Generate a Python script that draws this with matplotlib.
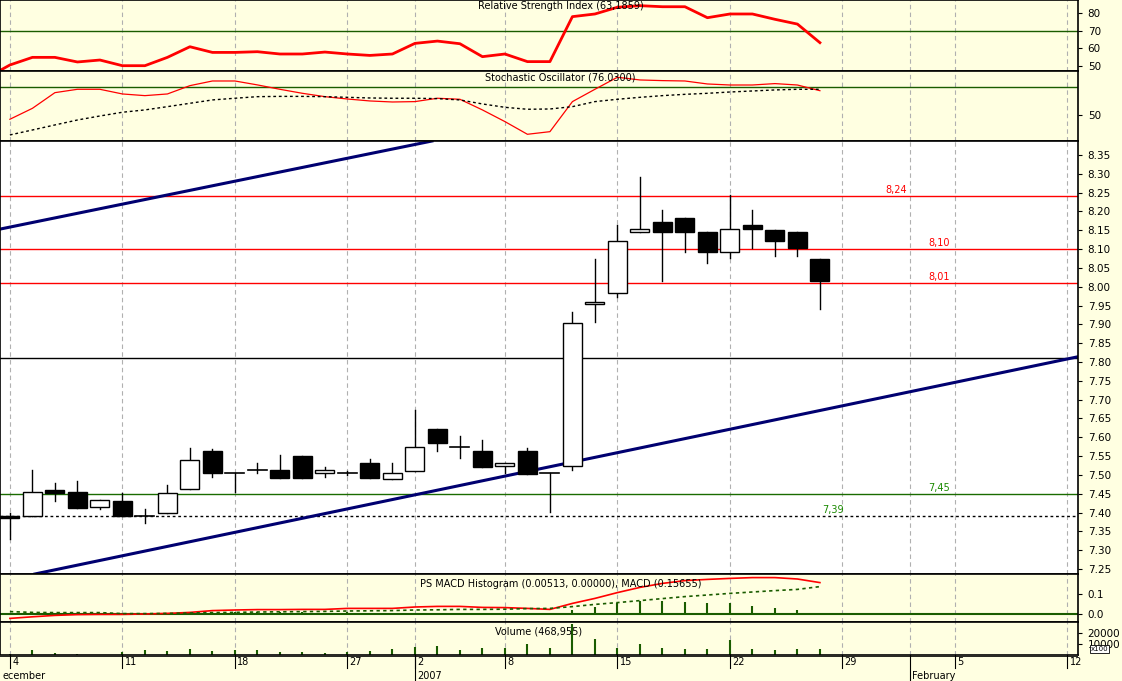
import numpy as np
import matplotlib
matplotlib.use("Agg")
import matplotlib.pyplot as plt
from matplotlib.patches import Rectangle

# ---- data (trading-day index 0 = 4 Dec 2006) ----
opens = [7.39, 7.392, 7.46, 7.454, 7.415, 7.43, 7.392, 7.40, 7.462, 7.563, 7.504, 7.513,
         7.513, 7.55, 7.504, 7.504, 7.533, 7.49, 7.51, 7.622, 7.573, 7.563, 7.524, 7.563,
         7.504, 7.524, 7.953, 7.982, 8.144, 8.172, 8.183, 8.144, 8.091, 8.163, 8.151, 8.144, 8.074]
closes = [7.385, 7.454, 7.453, 7.413, 7.433, 7.392, 7.392, 7.453, 7.541, 7.504, 7.504, 7.513,
          7.493, 7.493, 7.513, 7.504, 7.493, 7.504, 7.573, 7.584, 7.573, 7.522, 7.533, 7.502,
          7.504, 7.903, 7.96, 8.121, 8.153, 8.144, 8.144, 8.093, 8.153, 8.153, 8.122, 8.102, 8.015]
highs = [7.40, 7.513, 7.48, 7.484, 7.433, 7.453, 7.41, 7.473, 7.571, 7.57, 7.504, 7.533,
         7.553, 7.55, 7.522, 7.51, 7.542, 7.533, 7.672, 7.622, 7.603, 7.593, 7.533, 7.571,
         7.504, 7.932, 8.074, 8.163, 8.292, 8.204, 8.183, 8.144, 8.243, 8.204, 8.151, 8.144, 8.074]
lows = [7.331, 7.392, 7.43, 7.413, 7.41, 7.39, 7.373, 7.40, 7.462, 7.494, 7.454, 7.504,
        7.493, 7.493, 7.494, 7.50, 7.493, 7.49, 7.51, 7.564, 7.544, 7.522, 7.504, 7.502,
        7.402, 7.513, 7.905, 7.974, 8.144, 8.015, 8.093, 8.064, 8.075, 8.102, 8.082, 8.082, 7.942]

rsi_x0 = -0.44
rsi = [50.6, 54.9, 54.9, 52.3, 53.4, 50.2, 50.2, 54.9, 60.9, 57.7, 57.7, 58.1, 56.8, 56.8,
       57.9, 56.8, 56.0, 56.8, 62.8, 64.1, 62.6, 55.3, 56.8, 52.5, 52.5, 77.9, 79.4, 83.2,
       84.1, 83.5, 83.5, 77.3, 79.4, 79.4, 76.4, 73.7, 63.2]
rsi_start = 47.5
stoch_k = [45.4, 57.1, 73.9, 77.5, 77.5, 72.5, 70.7, 72.5, 81.4, 86.4, 86.4, 82.2, 77.5, 73.2,
           69.6, 67.1, 65.0, 63.9, 64.3, 67.9, 66.8, 55.4, 42.9, 29.3, 32.1, 64.3, 77.5, 90.4,
           87.5, 86.8, 86.4, 83.2, 82.1, 82.1, 83.6, 82.1, 76.0]
stoch_d = [28.6, 33.9, 39.3, 44.6, 48.9, 52.9, 55.4, 58.9, 62.5, 66.1, 67.9, 69.6, 69.9, 69.9,
           69.6, 68.9, 68.2, 67.9, 67.9, 67.5, 66.1, 61.8, 58.2, 56.1, 56.4, 58.9, 64.3, 66.8,
           68.9, 70.7, 72.1, 73.2, 74.6, 75.7, 76.8, 77.5, 77.5]
macd = [-0.022, -0.014, -0.007, -0.003, -0.002, -0.002, 0.0, 0.003, 0.008, 0.017, 0.02, 0.022,
        0.022, 0.023, 0.023, 0.028, 0.028, 0.028, 0.035, 0.038, 0.038, 0.033, 0.032, 0.028,
        0.023, 0.053, 0.078, 0.107, 0.133, 0.153, 0.167, 0.173, 0.178, 0.182, 0.182, 0.175, 0.157]
signal = [0.012, 0.008, 0.007, 0.007, 0.007, 0.002, 0.002, 0.003, 0.005, 0.007, 0.008, 0.01,
          0.011, 0.012, 0.013, 0.015, 0.016, 0.017, 0.02, 0.021, 0.023, 0.023, 0.024, 0.027,
          0.028, 0.037, 0.048, 0.057, 0.067, 0.077, 0.087, 0.095, 0.103, 0.11, 0.117, 0.123, 0.137]
hist = [0.0, 0.006, 0.0, 0.004, 0.0, 0.003, 0.004, 0.005, 0.006, 0.008, 0.008, 0.01, 0.009,
        0.008, 0.007, 0.008, 0.007, 0.006, 0.007, 0.007, 0.006, 0.005, 0.006, 0.004, 0.003,
        0.02, 0.037, 0.053, 0.065, 0.067, 0.062, 0.057, 0.053, 0.04, 0.032, 0.02, 0.007]
volume = [1000, 4240, 2120, 1210, 0, 2730, 4240, 3640, 5150, 3640, 4240, 4240, 2730, 2730,
          2120, 2730, 3640, 5150, 7270, 8180, 4850, 6670, 6670, 9700, 6670, 27900, 14240,
          6670, 10300, 6060, 5150, 5760, 13930, 5760, 4240, 5150, 5150]

# trend channel (index, price)
upper_trend = [(-0.44, 8.153), (18.76, 8.387)]
lower_trend = [(1.11, 7.237), (47.47, 7.814)]
levels = [(8.24, "8,24", "red"), (8.10, "8,10", "red"), (8.01, "8,01", "red"),
          (7.45, "7,45", "green"), (7.39, "7,39", "green")]

tick_idx = [0, 5, 10, 15, 18, 22, 27, 32, 37, 42, 47]
tick_lab = ["4", "11", "18", "27", "2", "8", "15", "22", "29", "5", "12"]
month_idx = [-0.6, 18, 40]
month_lab = ["ecember", "2007", "February"]

BG = "#FFFFE1"
W, H = 1122, 681
X0, X1 = -0.44, 47.47
fig = plt.figure(figsize=(W / 100, H / 100), dpi=100, facecolor=BG)


def panel(top, bottom, face):
    ax = fig.add_axes([0, 1 - bottom / H, 1078 / W, (bottom - top) / H], facecolor=face)
    ax.set_xlim(X0, X1)
    ax.yaxis.tick_right()
    ax.tick_params(axis="y", labelsize=7.5, length=3, pad=4)
    ax.set_xticks([])
    for s in ax.spines.values():
        s.set_color("black")
        s.set_linewidth(1.2)
    for t in tick_idx + [40]:
        ax.axvline(t, color="#b0b0b0", lw=0.8, ls=(0, (4, 3)), zorder=0)
    return ax


x = np.arange(len(opens))
fs = 7

# RSI
ax = panel(0, 71, BG)
ax.set_ylim(47.2, 87.3)
ax.set_yticks([50, 60, 70, 80])
ax.axhline(70, color="#1a5c00", lw=1)
ax.plot(np.r_[rsi_x0, x], [rsi_start] + rsi, color="red", lw=2)
ax.text(0.52, 0.87, "Relative Strength Index (63,1859)", transform=ax.transAxes, ha="center", fontsize=fs)

# Stochastic
ax = panel(71, 141, BG)
ax.set_ylim(22.1, 97.1)
ax.set_yticks([50])
ax.axhline(80, color="#1a5c00", lw=1)
ax.plot(x, stoch_k, color="red", lw=0.9)
ax.plot(x, stoch_d, color="black", lw=1, ls=(0, (2, 2)))
ax.text(0.52, 0.87, "Stochastic Oscillator (76.0300)", transform=ax.transAxes, ha="center", fontsize=fs)

# Main price panel
ax = panel(141, 574, "white")
ax.set_ylim(7.237, 8.387)
ax.set_yticks(np.round(np.arange(7.25, 8.351, 0.05), 2))
ax.yaxis.set_major_formatter(plt.FuncFormatter(lambda v, p: f"{v:.2f}"))
ax.axhline(7.81, color="black", lw=1)
for val, lab, col in levels:
    if col == "red":
        ax.axhline(val, color="red", lw=1)
    elif val == 7.45:
        ax.axhline(val, color="#1a6b00", lw=1)
    else:
        ax.axhline(val, color="black", lw=1, ls=(0, (2, 2)))
for (val, lab, col), xi in zip(levels, [39.4, 41.3, 41.3, 41.3, 36.6]):
    ax.text(xi, val + 0.008, lab, color="red" if col == "red" else "#1a8a00", fontsize=fs, ha="center")
for tr in (upper_trend, lower_trend):
    ax.plot([tr[0][0], tr[1][0]], [tr[0][1], tr[1][1]], color="#000070", lw=2.2)
bw = 0.85
for i in range(len(opens)):
    o, c, h, l = opens[i], closes[i], highs[i], lows[i]
    ax.plot([i, i], [l, h], color="black", lw=1, zorder=3)
    lo, hi = min(o, c), max(o, c)
    if hi - lo < 0.004:
        ax.plot([i - bw / 2, i + bw / 2], [c, c], color="black", lw=1.2, zorder=4)
    else:
        ax.add_patch(Rectangle((i - bw / 2, lo), bw, hi - lo, facecolor="white" if c > o else "black",
                               edgecolor="black", lw=1, zorder=4))

# MACD
ax = panel(574, 622, BG)
ax.set_ylim(-0.04, 0.2)
ax.set_yticks([0.0, 0.1])
ax.yaxis.set_major_formatter(plt.FuncFormatter(lambda v, p: f"{v:.1f}"))
ax.axhline(0, color="#1a5c00", lw=1.5)
ax.vlines(x, 0, hist, color="#1a5c00", lw=1.5)
ax.plot(x, macd, color="red", lw=1.2)
ax.plot(x, signal, color="#1a5c00", lw=1.2, ls=(0, (2, 2)))
ax.text(0.52, 0.72, "PS MACD Histogram (0.00513, 0.00000), MACD (0.15655)", transform=ax.transAxes,
        ha="center", fontsize=fs)

# Volume
ax = panel(622, 655, BG)
ax.set_ylim(0, 30000)
ax.set_yticks([10000, 20000])
ax.vlines(x, 0, volume, color="#1a5c00", lw=1.5)
ax.text(0.5, 0.62, "Volume (468,955)", transform=ax.transAxes, ha="center", fontsize=fs)
ax.text(1.012, 0.12, "x100", transform=ax.transAxes, fontsize=5,
        bbox=dict(facecolor="white", edgecolor="black", pad=0.4, lw=0.6))

# date axis
ax = fig.add_axes([0, 0, 1078 / W, 26 / H], facecolor=BG)
ax.set_xlim(X0, X1)
ax.set_ylim(0, 1)
ax.set_xticks([])
ax.set_yticks([])
for s in ax.spines.values():
    s.set_visible(False)
ax.axhline(0.98, color="black", lw=1.2)
for t, lab in zip(tick_idx, tick_lab):
    ax.plot([t, t], [0.5, 1], color="black", lw=0.8)
    ax.text(t + 0.1, 0.72, lab, fontsize=fs, va="center")
for t, lab in zip(month_idx, month_lab):
    if t > 0:
        ax.plot([t, t], [0, 1], color="black", lw=0.8)
    ax.text(max(t, X0) + 0.1, 0.2, lab, fontsize=fs, va="center")

fig.savefig("out.png", dpi=100, facecolor=BG)
